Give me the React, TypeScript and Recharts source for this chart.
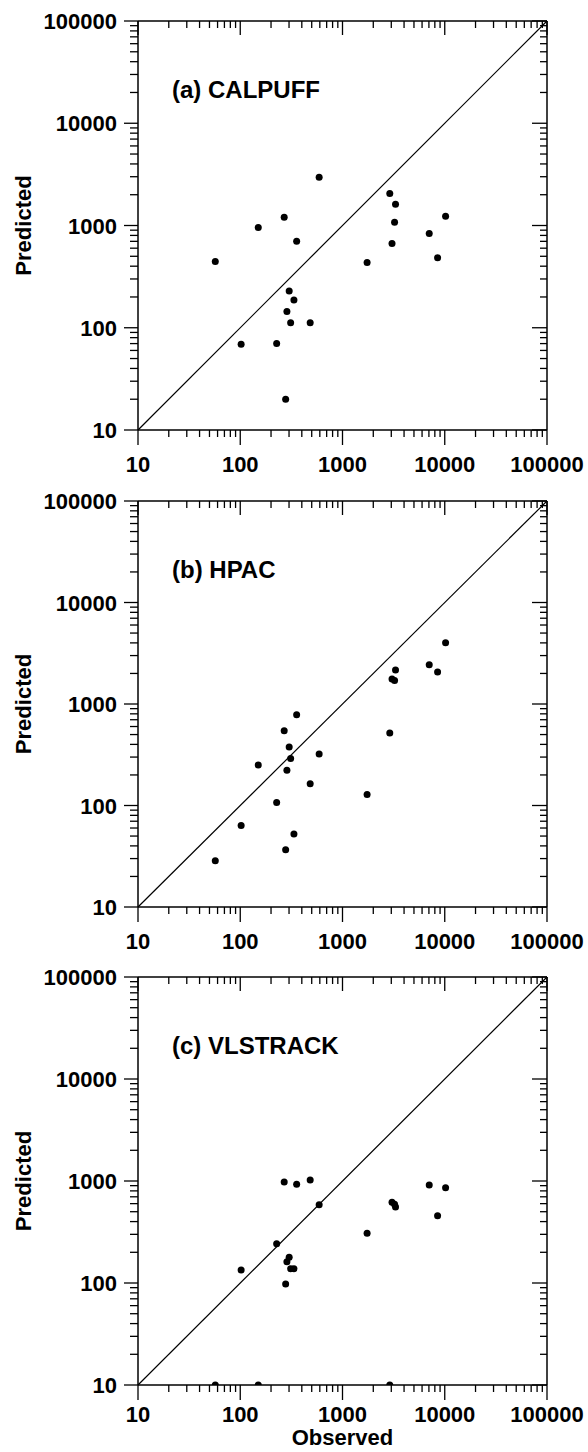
import React from "react"
import { ScatterChart, Scatter, XAxis, YAxis, ReferenceLine } from "recharts"

// observed concentrations, same for all three models
const observed = [57, 102, 150, 227, 269, 278, 286, 301, 311, 335, 356, 483, 591, 1740, 2900, 3050, 3230, 3300, 7050, 8510, 10190]

const calpuff = [444, 69, 955, 70, 1205, 20, 144, 229, 112, 187, 702, 112, 2970, 434, 2050, 665, 1077, 1614, 834, 485, 1233]
const hpac = [28.6, 63.7, 251, 107, 545, 36.7, 222, 377, 291, 52.4, 785, 164, 321, 128, 518, 1763, 1700, 2160, 2440, 2065, 4020]
const vlstrack = [10, 134, 10, 243, 975, 98, 162, 179, 138, 138, 927, 1020, 585, 308, 10, 620, 590, 555, 912, 456, 860]

const decades = [10, 100, 1000, 10000, 100000]
const steps = [1, 2, 3, 4, 5, 6, 7, 8, 9]
const logTicks = decades.flatMap((d) => (d === 100000 ? [d] : steps.map((s) => d * s)))

const FONT = '"Liberation Sans", Arial, Helvetica, sans-serif'
const PLOT_W = 409

const panels = [
  { title: "(a) CALPUFF", predicted: calpuff, top: 21, h: 409, last: false },
  { title: "(b) HPAC", predicted: hpac, top: 501, h: 406, last: false },
  { title: "(c) VLSTRACK", predicted: vlstrack, top: 977, h: 408, last: true },
]

function XTick(props: any) {
  const { x, y, payload, plotH, labelDy } = props
  const v = payload.value
  const major = decades.includes(v)
  return (
    <g>
      <line x1={x} y1={y} x2={x} y2={y + (major ? 15 : 7)} stroke="#000" strokeWidth={1.3} />
      <line x1={x} y1={y - plotH} x2={x} y2={y - plotH + (major ? 14 : 7)} stroke="#000" strokeWidth={1.3} />
      {major && (
        <text x={x} y={y + labelDy} textAnchor="middle" fontFamily={FONT} fontWeight="bold" fontSize={22} fill="#000">
          {v}
        </text>
      )}
    </g>
  )
}

function YTick(props: any) {
  const { x, y, payload } = props
  const v = payload.value
  const major = decades.includes(v)
  return (
    <g>
      <line x1={x - (major ? 14 : 8)} y1={y} x2={x} y2={y} stroke="#000" strokeWidth={1.3} />
      <line x1={x + PLOT_W} y1={y} x2={x + PLOT_W - (major ? 15 : 7)} y2={y} stroke="#000" strokeWidth={1.3} />
      {major && (
        <text x={x - 21} y={y + 8} textAnchor="end" fontFamily={FONT} fontWeight="bold" fontSize={22} fill="#000">
          {v}
        </text>
      )}
    </g>
  )
}

function PredLabel(props: any) {
  const vb = props.viewBox || { y: 0, height: 0 }
  const cy = vb.y + vb.height / 2
  return (
    <text x={23} y={cy} transform={`rotate(-90, 23, ${cy})`} textAnchor="middle" dominantBaseline="central"
      fontFamily={FONT} fontWeight="bold" fontSize={22} fill="#000">
      Predicted
    </text>
  )
}

function ObsLabel(props: any) {
  const vb = props.viewBox || { x: 0, y: 0, width: 0 }
  return (
    <text x={vb.x + vb.width / 2} y={vb.y + 60} textAnchor="middle"
      fontFamily={FONT} fontWeight="bold" fontSize={22} fill="#000">
      Observed
    </text>
  )
}

const dot = (p: any) => <circle cx={p.cx} cy={p.cy} r={3.5} fill="#000" />

function Panel({ title, predicted, top, h, last }: any) {
  const data = observed.map((o, i) => ({ x: o, y: predicted[i] }))
  const axisH = last ? 66 : 48
  const labelDy = last ? 37 : 42
  return (
    <>
      <div style={{ position: "absolute", left: 0, top: top - 20 }}>
        <ScatterChart width={588} height={20 + h + axisH} margin={{ top: 20, right: 41, bottom: 0, left: 0 }}>
          <XAxis type="number" dataKey="x" scale="log" domain={[10, 100000]} ticks={logTicks} interval={0}
            tickSize={0} tickMargin={0} height={axisH} tickLine={false} allowDataOverflow
            axisLine={{ stroke: "#000", strokeWidth: 1.5 }}
            tick={(p: any) => <XTick {...p} plotH={h} labelDy={labelDy} />}
            label={last ? <ObsLabel /> : undefined} />
          <YAxis type="number" dataKey="y" scale="log" domain={[10, 100000]} ticks={logTicks} interval={0}
            tickSize={0} tickMargin={0} width={138} tickLine={false} allowDataOverflow
            axisLine={{ stroke: "#000", strokeWidth: 1.5 }}
            tick={(p: any) => <YTick {...p} />}
            label={<PredLabel />} />
          <ReferenceLine y={100000} stroke="#000" strokeWidth={1.5} />
          <ReferenceLine x={100000} stroke="#000" strokeWidth={1.5} />
          <ReferenceLine segment={[{ x: 10, y: 10 }, { x: 100000, y: 100000 }]} stroke="#000" strokeWidth={1.2} />
          <Scatter data={data} fill="#000" shape={dot} isAnimationActive={false} />
        </ScatterChart>
      </div>
      <div style={{ position: "absolute", left: 172, top: top + 57, font: `bold 24px ${FONT}`, lineHeight: "24px", color: "#000", whiteSpace: "nowrap" }}>
        {title}
      </div>
    </>
  )
}

export default function App() {
  return (
    <div style={{ position: "absolute", left: 0, top: 0, width: 588, height: 1452, background: "#fff" }}>
      {panels.map((p) => (
        <Panel key={p.title} {...p} />
      ))}
    </div>
  )
}
